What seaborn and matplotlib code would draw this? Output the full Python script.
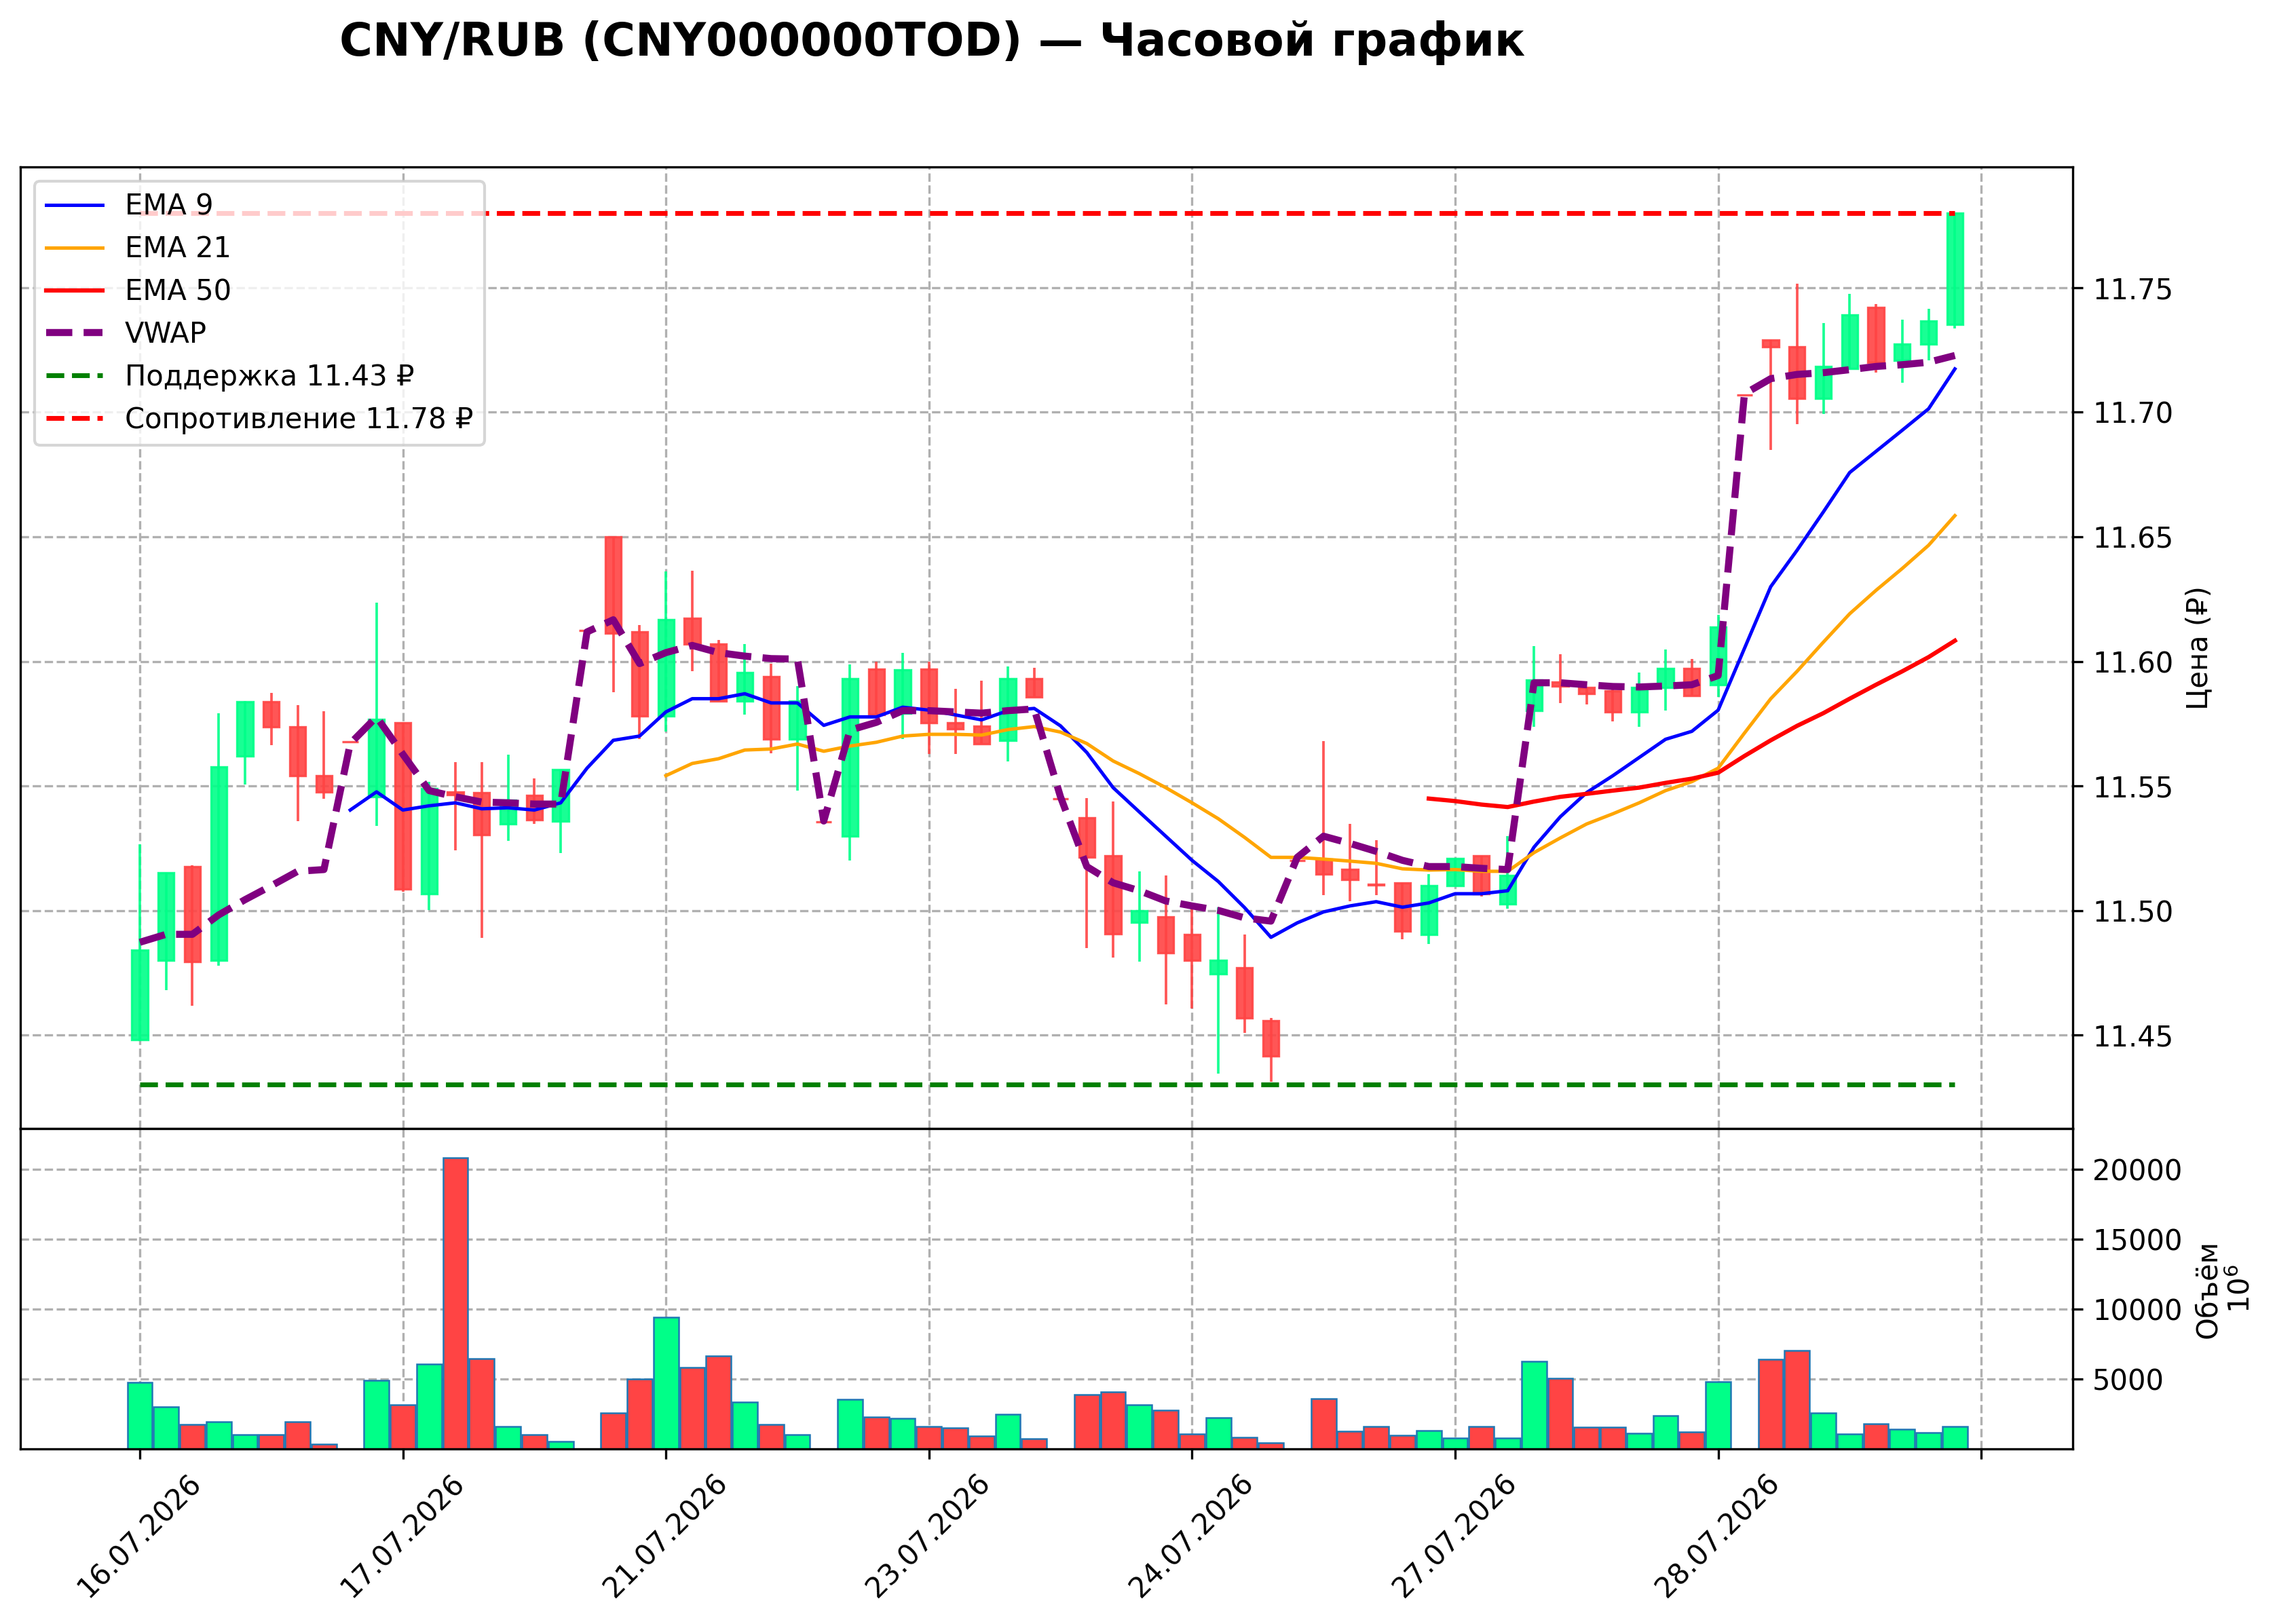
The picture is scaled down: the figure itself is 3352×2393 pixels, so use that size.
import numpy as np
import pandas as pd
import matplotlib
matplotlib.use("Agg")
import matplotlib.pyplot as plt
from matplotlib.ticker import FormatStrFormatter, FixedLocator
import seaborn as sns

TITLE = "CNY/RUB (CNY000000TOD) — Часовой график"
PRICE_LABEL = "Цена (₽)"
VOLUME_LABEL = "Объём\n$10^{6}$"

OPEN = [11.448, 11.480, 11.5176, 11.480, 11.5619, 11.5838, 11.5736, 11.5541, 11.5678, 11.5456,
        11.5753, 11.5067, 11.5476, 11.5473, 11.5347, 11.5461, 11.5359, 11.6125, 11.650, 11.6118,
        11.578, 11.6174, 11.6069, 11.5841, 11.594, 11.5687, 11.5356, 11.5298, 11.597, 11.5792,
        11.597, 11.5753, 11.5741, 11.5682, 11.5931, 11.5449, 11.5371, 11.5218, 11.4953, 11.4974,
        11.4904, 11.4746, 11.477, 11.4556, 11.5201, 11.5206, 11.5164, 11.5106, 11.5111, 11.4904,
        11.5099, 11.5218, 11.5026, 11.5802, 11.5918, 11.5894, 11.5882, 11.5797, 11.5894, 11.5972,
        11.5906, 11.7069, 11.7291, 11.7262, 11.7055, 11.7176, 11.7422, 11.7208, 11.7274, 11.7354]
HIGH = [11.5266, 11.515, 11.518, 11.5792, 11.584, 11.5872, 11.5824, 11.5799, 11.5678, 11.6237,
        11.5753, 11.5517, 11.5595, 11.5595, 11.5624, 11.5529, 11.5566, 11.6125, 11.650, 11.6145,
        11.6361, 11.6364, 11.6086, 11.6069, 11.5991, 11.5901, 11.5356, 11.5987, 11.5999, 11.6033,
        11.5999, 11.5889, 11.5923, 11.5979, 11.5974, 11.5449, 11.5451, 11.5437, 11.5157, 11.514,
        11.5006, 11.5011, 11.4904, 11.4568, 11.5201, 11.568, 11.5347, 11.5281, 11.5111, 11.5145,
        11.5208, 11.5218, 11.5298, 11.606, 11.6028, 11.5894, 11.5894, 11.5955, 11.6047, 11.6009,
        11.6186, 11.7069, 11.7291, 11.7517, 11.7359, 11.7476, 11.7434, 11.7373, 11.7415, 11.780]
LOW = [11.4475, 11.468, 11.4617, 11.4777, 11.5505, 11.5663, 11.5359, 11.5449, 11.5678, 11.5339,
       11.5074, 11.5001, 11.5242, 11.4889, 11.5279, 11.5347, 11.523, 11.6125, 11.5875, 11.5687,
       11.5719, 11.596, 11.584, 11.5785, 11.5631, 11.5481, 11.5356, 11.5201, 11.5785, 11.5687,
       11.5627, 11.5627, 11.567, 11.5597, 11.5858, 11.5449, 11.4848, 11.4811, 11.4794, 11.4622,
       11.4607, 11.4344, 11.4507, 11.4313, 11.5201, 11.5062, 11.5038, 11.5062, 11.4884, 11.4865,
       11.5099, 11.5055, 11.5006, 11.5736, 11.5833, 11.5826, 11.576, 11.5736, 11.5802, 11.5863,
       11.5858, 11.7069, 11.685, 11.6953, 11.6994, 11.7176, 11.7159, 11.7118, 11.7208, 11.7337]
CLOSE = [11.484, 11.515, 11.4794, 11.5575, 11.5838, 11.5736, 11.5541, 11.5476, 11.5678, 11.5768,
         11.5086, 11.5488, 11.5464, 11.5305, 11.5444, 11.5364, 11.5566, 11.6125, 11.6113, 11.578,
         11.6167, 11.6069, 11.5841, 11.5955, 11.5687, 11.5841, 11.5356, 11.5931, 11.5785, 11.5965,
         11.5753, 11.5729, 11.567, 11.5931, 11.5858, 11.5449, 11.5213, 11.4906, 11.4999, 11.4831,
         11.4799, 11.4799, 11.4568, 11.4415, 11.5201, 11.5147, 11.5123, 11.5101, 11.4916, 11.5099,
         11.5208, 11.5067, 11.514, 11.5926, 11.5901, 11.587, 11.5797, 11.5894, 11.5972, 11.5863,
         11.6137, 11.7069, 11.7262, 11.7055, 11.7184, 11.739, 11.7201, 11.7274, 11.7366, 11.780]
VOLUME = [4773, 3026, 1764, 1925, 1003, 1003, 1958, 356, 0, 4919,
          3171, 6084, 20840, 6472, 1602, 1003, 518, 0, 2589, 4983,
          9433, 5841, 6666, 3349, 1764, 1003, 0, 3543, 2298, 2184,
          1602, 1505, 938, 2476, 728, 0, 3883, 4094, 3155, 2783,
          1068, 2233, 825, 437, 0, 3592, 1262, 1602, 987, 1311,
          777, 1602, 777, 6262, 5064, 1553, 1553, 1116, 2378, 1214,
          4805, 0, 6423, 7038, 2556, 1068, 1796, 1408, 1165, 1586]
NA = np.nan
EMA9 = [NA] * 8 + [11.5403, 11.5476, 11.5403, 11.542, 11.5432, 11.5408, 11.5412, 11.5403, 11.5432, 11.5571,
                   11.5683, 11.570, 11.5797, 11.585, 11.585, 11.587, 11.5833, 11.5833, 11.5743, 11.5777,
                   11.5777, 11.5816, 11.5804, 11.5785, 11.5765, 11.5802, 11.5811, 11.5741, 11.5634, 11.5493,
                   11.5395, 11.5298, 11.5201, 11.5116, 11.5011, 11.4892, 11.495, 11.4994, 11.5018, 11.5035,
                   11.5013, 11.503, 11.5067, 11.5067, 11.5079, 11.5254, 11.5376, 11.5473, 11.5541, 11.5614,
                   11.5687, 11.5719, 11.5804, 11.6052, 11.63, 11.6446, 11.66, 11.6758, 11.6843, 11.6928,
                   11.7014, 11.7174]
EMA21 = [NA] * 20 + [11.5541, 11.559, 11.5609, 11.5644, 11.5648, 11.5668, 11.5639, 11.566, 11.5675, 11.570,
                     11.5707, 11.5707, 11.5704, 11.5726, 11.5738, 11.5716, 11.567, 11.560, 11.5549, 11.5493,
                     11.5432, 11.5368, 11.5293, 11.5213, 11.5213, 11.5206, 11.5198, 11.5189, 11.5167, 11.5162,
                     11.5164, 11.5157, 11.5157, 11.5232, 11.5291, 11.5347, 11.5388, 11.5432, 11.5481, 11.5517,
                     11.5571, 11.5712, 11.585, 11.596, 11.6077, 11.6191, 11.6285, 11.6373, 11.6466, 11.6585]
EMA50 = [NA] * 49 + [11.5449, 11.5439, 11.5425, 11.5415, 11.5437, 11.5456, 11.5468, 11.5481, 11.5493, 11.5512,
                     11.5529, 11.5553, 11.562, 11.5683, 11.5741, 11.5792, 11.585, 11.5906, 11.596, 11.6017,
                     11.6083]
VWAP = [11.4872, 11.4904, 11.4904, 11.4982, 11.5043, 11.5099, 11.5157, 11.5164, 11.567, 11.5777,
        11.5627, 11.5481, 11.5456, 11.5435, 11.5432, 11.5427, 11.5427, 11.6118, 11.6167, 11.5991,
        11.6035, 11.6064, 11.6035, 11.6021, 11.6011, 11.6009, 11.5359, 11.5724, 11.5755, 11.5802,
        11.5802, 11.5797, 11.5792, 11.5802, 11.5809, 11.5456, 11.5176, 11.5111, 11.5079, 11.5038,
        11.5018, 11.5000, 11.497, 11.4957, 11.5213, 11.5298, 11.5269, 11.5237, 11.5201, 11.5176,
        11.5176, 11.5169, 11.5164, 11.5914, 11.5914, 11.5906, 11.5899, 11.5897, 11.5901, 11.5906,
        11.5943, 11.7074, 11.7135, 11.7152, 11.7159, 11.7171, 11.7184, 11.7191, 11.7201, 11.7228]
SUPPORT = 11.43
RESISTANCE = 11.78
DATE_TICKS = [0, 10, 20, 30, 40, 50, 60, 70]
DATE_LABELS = ["16.07.2026", "17.07.2026", "21.07.2026", "23.07.2026",
               "24.07.2026", "27.07.2026", "28.07.2026", ""]
PRICE_TICKS = [11.45, 11.50, 11.55, 11.60, 11.65, 11.70, 11.75]
VOLUME_TICKS = [5000, 10000, 15000, 20000]

df = pd.DataFrame({"open": OPEN, "high": HIGH, "low": LOW, "close": CLOSE,
                   "volume": VOLUME, "ema9": EMA9, "ema21": EMA21, "ema50": EMA50,
                   "vwap": VWAP})
df["idx"] = np.arange(len(df))

UP_C = "#00ff88"
DN_C = "#ff4444"
up = df["close"] > df["open"]
colors = np.where(up, UP_C, DN_C)

plt.rcParams["font.family"] = ["DejaVu Sans"]
W, H = 3353, 2393
fig = plt.figure(figsize=(W / 300, H / 300), dpi=300)
L, R = 30 / W, 3054 / W
ax = fig.add_axes([L, 1 - 1663 / H, R - L, (1663 - 246) / H])
axv = fig.add_axes([L, 1 - 2135 / H, R - L, (2135 - 1663) / H], sharex=ax)

grid_kw = dict(color="#b0b0b0", linestyle="--", linewidth=0.8)
for a in (ax, axv):
    a.set_axisbelow(True)
    a.grid(True, **grid_kw)

# candles
body_bottom = np.minimum(df["open"], df["close"])
body_h = np.abs(df["close"] - df["open"])
ax.vlines(df["idx"], df["low"], df["high"], colors=colors, linewidth=0.9, alpha=0.9, zorder=2)
ax.bar(df["idx"], body_h, bottom=body_bottom, width=0.6, color=colors,
       edgecolor=colors, linewidth=0.8, alpha=0.9, zorder=2.5)

# indicator lines
sns.lineplot(x=df["idx"], y=df["ema9"], ax=ax, color="blue", linewidth=1.2, label="EMA 9", zorder=3)
sns.lineplot(x=df["idx"], y=df["ema21"], ax=ax, color="orange", linewidth=1.2, label="EMA 21", zorder=3)
sns.lineplot(x=df["idx"], y=df["ema50"], ax=ax, color="red", linewidth=1.5, label="EMA 50", zorder=3)
sns.lineplot(x=df["idx"], y=df["vwap"], ax=ax, color="purple", linewidth=2.5, linestyle="--",
             label="VWAP", zorder=3.2)
ax.hlines(SUPPORT, df["idx"].iloc[0], df["idx"].iloc[-1], colors="green", linestyles="--",
          linewidth=1.7, label=f"Поддержка {SUPPORT:.2f} ₽", zorder=3)
ax.hlines(RESISTANCE, df["idx"].iloc[0], df["idx"].iloc[-1], colors="red", linestyles="--",
          linewidth=1.7, label=f"Сопротивление {RESISTANCE:.2f} ₽", zorder=3)

ax.set_xlim(-4.54, 73.48)
ax.set_ylim(11.4124, 11.7985)
ax.yaxis.set_major_locator(FixedLocator(PRICE_TICKS))
ax.yaxis.set_major_formatter(FormatStrFormatter("%.2f"))
ax.yaxis.tick_right()
ax.yaxis.set_label_position("right")
ax.set_ylabel(PRICE_LABEL, fontsize=10)
ax.set_xlabel("")
ax.tick_params(axis="x", length=0, labelbottom=False)
ax.tick_params(axis="y", labelsize=10)

handles, labels = ax.get_legend_handles_labels()
order = ["EMA 9", "EMA 21", "EMA 50", "VWAP",
         f"Поддержка {SUPPORT:.2f} ₽", f"Сопротивление {RESISTANCE:.2f} ₽"]
hmap = dict(zip(labels, handles))
ax.legend([hmap[k] for k in order], order, loc="upper left", fontsize=10)

# volume
axv.bar(df["idx"], df["volume"], width=0.95, color=colors, edgecolor="#1f77b4", linewidth=0.6)
axv.set_ylim(0, 22913)
axv.yaxis.set_major_locator(FixedLocator(VOLUME_TICKS))
axv.yaxis.tick_right()
axv.yaxis.set_label_position("right")
axv.set_ylabel(VOLUME_LABEL, fontsize=10)
axv.set_xticks(DATE_TICKS)
axv.set_xticklabels(DATE_LABELS, rotation=45, fontsize=10)
axv.tick_params(axis="y", labelsize=10)
axv.set_xlabel("")

fig.text(1374 / W, 1 - 82 / H, TITLE, ha="center", va="baseline", fontsize=16, fontweight="bold")

fig.savefig("out.png", dpi=300)
